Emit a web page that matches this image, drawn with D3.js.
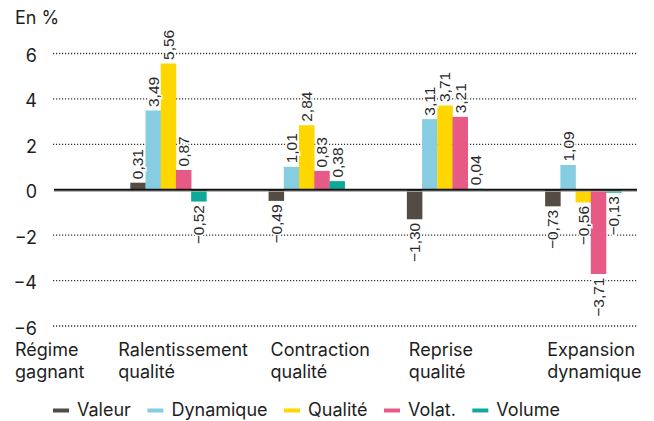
<!DOCTYPE html>
<html>
<head>
<meta charset="utf-8">
<script src="https://cdn.jsdelivr.net/npm/d3@7"></script>
<style>
  html, body { margin: 0; padding: 0; background: #fff; }
  svg { display: block; }
</style>
</head>
<body>
<svg id="chart" width="654" height="421"></svg>
<script>
// ---- data ----
const categories = ["Ralentissement\nqualité", "Contraction\nqualité", "Reprise\nqualité", "Expansion\ndynamique"];
const series = ["Valeur", "Dynamique", "Qualité", "Volat.", "Volume"];
const valeur    = [0.31, -0.49, -1.30, -0.73];
const dynamique = [3.49, 1.01, 3.11, 1.09];
const qualite   = [5.56, 2.84, 3.71, -0.56];
const volat     = [0.87, 0.83, 3.21, -3.71];
const volume    = [-0.52, 0.38, 0.04, -0.13];
const yTicks = [-6, -4, -2, 0, 2, 4, 6];
const rowHeader = "Régime\ngagnant";
const yUnit = "En %";
const colors = ["#544b45", "#86cde2", "#fed600", "#e85a86", "#0ea998"];

const values = [valeur, dynamique, qualite, volat, volume];

const svg = d3.select("#chart");
const uiFont = "Inter, 'Noto Sans', sans-serif";
const valFont = "'Liberation Sans', Arial, sans-serif";

const y = d3.scaleLinear().domain([-6, 6]).range([326, 53.5]);
const x0 = d3.scaleBand().domain(categories).range([130.3, 621.2]).paddingInner(0.45).paddingOuter(0);
const x1 = d3.scaleBand().domain(series).range([0, x0.bandwidth()]).padding(0);
const fmt = v => (v < 0 ? "\u2212" : "") + d3.format(".2f")(Math.abs(v)).replace(".", ",");

// grid
const gridX0 = 53, gridX1 = 638;
svg.append("g").selectAll("line").data(yTicks.filter(d => d !== 0)).join("line")
  .attr("x1", gridX0).attr("x2", gridX1)
  .attr("y1", d => y(d)).attr("y2", d => y(d))
  .attr("stroke", "#333").attr("stroke-width", 1.3)
  .attr("stroke-dasharray", "1.2,1.8");

// tick labels
svg.append("g").selectAll("text").data(yTicks).join("text")
  .attr("x", 37).attr("y", d => y(d) + 8.5)
  .attr("text-anchor", "end")
  .attr("font-family", uiFont).attr("font-size", 18).attr("fill", "#1e1e1e")
  .text(d => (d < 0 ? "\u2212" : "") + Math.abs(d));

// unit label
svg.append("text").attr("x", 15).attr("y", 24)
  .attr("font-family", uiFont).attr("font-size", 18).attr("fill", "#1e1e1e")
  .text(yUnit);

// bars
const flat = [];
categories.forEach((c, ci) => series.forEach((s, si) => flat.push({c, s, si, v: values[si][ci]})));

svg.append("g").selectAll("rect").data(flat).join("rect")
  .attr("x", d => x0(d.c) + x1(d.s))
  .attr("width", x1.bandwidth() + 0.3)
  .attr("y", d => y(Math.max(0, d.v)))
  .attr("height", d => Math.abs(y(d.v) - y(0)))
  .attr("fill", d => colors[d.si]);

// zero line
svg.append("line").attr("x1", 54).attr("x2", 637).attr("y1", y(0) + 1.6).attr("y2", y(0) + 1.6)
  .attr("stroke", "#aaa").attr("stroke-width", 1);
svg.append("line").attr("x1", 54).attr("x2", 637).attr("y1", y(0)).attr("y2", y(0))
  .attr("stroke", "#111").attr("stroke-width", 2);

// value labels
svg.append("g").selectAll("text").data(flat).join("text")
  .attr("transform", d => {
    const cx = x0(d.c) + x1(d.s) + x1.bandwidth() / 2;
    const yy = d.v >= 0 ? y(d.v) - 3.5 : y(d.v) + 3.5;
    return `translate(${cx},${yy}) rotate(-90)`;
  })
  .attr("dy", "0.36em")
  .attr("text-anchor", d => d.v >= 0 ? "start" : "end")
  .attr("font-family", valFont).attr("font-size", 15.5).attr("fill", "#2a2a2a")
  .attr("stroke", "#fff").attr("stroke-width", 3).attr("paint-order", "stroke")
  .text(d => fmt(d.v));

// category labels
function multiline(sel, str) {
  str.split("\n").forEach((line, i) => {
    sel.append("tspan").attr("x", sel.attr("x")).attr("dy", i === 0 ? 0 : 22).text(line);
  });
}
const rh = svg.append("text").attr("x", 15).attr("y", 356)
  .attr("font-family", uiFont).attr("font-size", 18).attr("fill", "#1e1e1e");
multiline(rh, rowHeader);
categories.forEach((c, i) => {
  const t = svg.append("text").attr("x", x0(c) + (i === 0 ? -12 : 2)).attr("y", 356)
    .attr("font-family", uiFont).attr("font-size", 18).attr("fill", "#1e1e1e");
  multiline(t, c);
});

// legend
let lx = 53;
const ly = 416;
series.forEach((s, i) => {
  svg.append("rect").attr("x", lx).attr("y", ly - 7.5).attr("width", 16).attr("height", 4)
    .attr("fill", colors[i]);
  const t = svg.append("text").attr("x", lx + 24).attr("y", ly)
    .attr("font-family", uiFont).attr("font-size", 18).attr("fill", "#1e1e1e").text(s);
  lx = lx + 24 + t.node().getComputedTextLength() + 16.5;
});
</script>
</body>
</html>
